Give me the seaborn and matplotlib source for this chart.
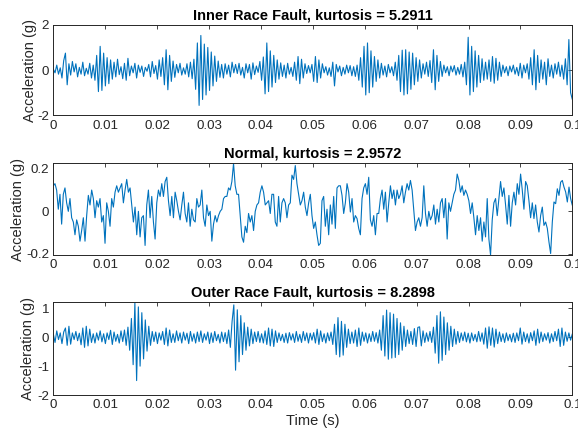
import numpy as np
import matplotlib
matplotlib.use("Agg")
import matplotlib.pyplot as plt
import seaborn as sns

# Inner race fault signal (values in 0.01 g)
inner_cg = [
    5, -12, 22, -18, 10, -35, 42, 75, -65, 28,
    -22, 38, -8, 28, -30, 12, -18, 35, -25, 8,
    -18, 30, -35, 22, -45, 65, -95, 105, -90, 75,
    -70, 55, -60, 45, -40, 35, -30, 48, -20, 15,
    -38, 30, -45, 52, -25, 18, -12, 30, -35, 22,
    -10, 18, -28, 12, -5, 25, -30, 38, -15, 20,
    -40, 45, -28, 55, -65, 90, -87, 65, -50, 40,
    -32, 25, -12, 30, -22, 10, -18, 28, -30, 35,
    -38, 48, -85, 120, -156, 153, -130, 115, -110, 100,
    -90, 80, -70, 62, -50, 40, -32, 25, -35, 28,
    -18, 22, -30, 35, -12, 25, -15, 30, -22, 12,
    -35, 28, -12, 25, -40, 32, -20, 18, -10, 38,
    -45, 58, -105, 120, -95, 85, -75, 65, -55, 45,
    -40, 32, -28, 22, -35, 30, -18, 12, -28, 35,
    -45, 60, -60, 48, -35, 28, -15, 20, -12, 25,
    -50, 60, -55, 45, -35, 28, -12, 15, -22, 10,
    -28, 35, -70, 25, -8, 18, -25, 12, -18, 22,
    -12, 20, -25, 15, -28, 22, -45, 55, -75, 105,
    -110, 120, -100, 85, -75, 60, -50, 45, -35, 30,
    -22, 18, -30, 25, -12, 15, -25, 35, -45, 65,
    -95, 88, -110, 90, -105, 80, -85, 75, -65, 55,
    -50, 45, -35, 28, -18, 35, -28, 42, -55, 90,
    -87, 65, -50, 38, -28, 22, -12, 15, -25, 18,
    -8, 20, -22, 12, -18, 25, -30, 35, -65, 145,
    -110, 105, -95, 85, -75, 65, -55, 50, -45, 35,
    -40, 45, -50, 60, -58, 52, -45, 35, -28, 22,
    -12, 15, -25, 18, -8, 22, -18, 12, -25, 30,
    -35, 22, -12, 28, -40, 55, -65, 90, -87, 65,
    -55, 45, -40, 35, -65, 50, -28, 22, -35, 28,
    -18, 35, -28, 22, -40, 50, -65, 135, -100, -130,
]

# Normal (healthy bearing) signal, in g
normal_g = [
    0.12, 0.13, 0.10, 0.01, 0.08, -0.06, 0.08, 0.11, 0.04, 0.00,
    0.06, -0.03, -0.05, -0.11, -0.04, -0.07, -0.14, -0.09, -0.03, -0.14,
    -0.02, 0.075, 0.03, 0.10, 0.06, -0.03, 0.05, 0.02, 0.06, -0.05,
    -0.02, -0.15, 0.04, 0.00, -0.07, 0.06, 0.02, 0.09, 0.12, 0.09,
    0.11, 0.13, 0.04, 0.10, 0.15, 0.09, 0.11, 0.03, -0.05, 0.02,
    -0.11, 0.00, -0.12, -0.03, -0.02, -0.16, 0.03, 0.10, -0.03, 0.07,
    -0.05, -0.13, 0.04, 0.10, 0.07, 0.13, 0.07, 0.14, 0.16, 0.05,
    -0.02, 0.07, -0.03, 0.09, 0.05, 0.00, -0.04, 0.03, 0.09, -0.01,
    -0.05, 0.04, -0.07, 0.01, -0.04, -0.05, 0.06, 0.02, 0.03, 0.10,
    -0.03, -0.07, 0.03, -0.02, 0.00, -0.14, -0.06, -0.02, -0.05, -0.02,
    0.00, 0.01, 0.06, 0.07, 0.07, 0.11, 0.10, 0.14, 0.225, 0.12,
    0.08, 0.08, -0.02, -0.12, -0.145, -0.07, -0.10, -0.01, -0.05, -0.02,
    -0.09, 0.00, 0.03, 0.04, 0.09, 0.12, 0.09, 0.03, 0.04, 0.05,
    -0.01, 0.08, 0.08, -0.05, -0.07, 0.07, -0.05, 0.04, 0.06, 0.04,
    -0.03, 0.03, 0.04, 0.17, 0.15, 0.215, 0.13, 0.08, 0.03, 0.05,
    0.09, 0.02, -0.02, 0.04, 0.08,
    -0.02, -0.08, -0.05, -0.11, -0.16, -0.15, 0.05, 0.07, -0.07, 0.01,
    -0.11, 0.03, -0.06, 0.07, -0.08, 0.11, 0.12, 0.12, 0.075, -0.01,
    0.04, 0.13, 0.09, -0.003, 0.06, -0.05, -0.02, -0.034, -0.08, -0.11,
    0.06, 0.11, 0.13, 0.08, 0.16, -0.04, -0.07, -0.02, -0.11, -0.01,
    -0.01, 0.06, 0.10, 0.01, 0.09, -0.05, 0.04, 0.12, 0.06, 0.10,
    0.03, 0.10, 0.06, 0.08, 0.12, 0.04, 0.09, 0.13, 0.10, 0.145,
    0.10, 0.005, -0.09, -0.05, -0.03, -0.07, -0.03, 0.12, -0.01, -0.07,
    0.00, -0.04, -0.02, 0.03, -0.06, 0.01, -0.05, 0.04, 0.06, -0.03,
    0.06, -0.13, 0.04, 0.00, 0.04, 0.08, 0.10, 0.175, 0.145, 0.09,
    0.12, 0.075, 0.10, 0.08, 0.05, -0.01, 0.04, -0.03, -0.11, -0.02,
    -0.09, -0.03, -0.14, -0.05, -0.12, 0.06, -0.13, -0.205, -0.04, 0.04,
    0.06, -0.02, 0.06, 0.14, 0.07, 0.11, 0.03, -0.06, 0.075, -0.07,
    0.04, 0.09, 0.03, 0.13, 0.08, 0.175, 0.10, 0.01, 0.14, 0.12,
    0.05, -0.03, 0.04, -0.034, 0.03, -0.05, -0.097, -0.02, 0.02, -0.066,
    -0.05, -0.08, -0.144, -0.198, -0.05, 0.044, 0.036, 0.106, 0.075, 0.137,
    0.145, 0.114, 0.091, 0.044, 0.114, 0.059, 0.028,
]

# Outer race fault signal (values in 0.01 g)
outer_cg = [
    12, -18, 22, -8, 15, -22, 18, 32, -28, 38,
    -24, 15, -8, 20, -12, 14, -26, 32, -35, 38,
    -30, 28, -18, 12, -20, 15, -10, 22, -16, 12,
    -22, 15, -8, 24, -25, 18, -14, 10, -20, 22,
    -15, 25, -28, 35, -45, 65, -95, 120, -150, 105,
    -100, 85, -75, 60, -48, 38, -28, 20, -15, 18,
    -22, 15, -10, 20, -25, 32, -30, 25, -18, 12,
    -18, 22, -12, 15, -20, 18, -10, 14, -22, 20,
    -14, 12, -20, 18, -15, 22, -18, 12, -10, 18,
    -22, 15, -18, 20, -12, 10, -20, 18, -15, 16,
    -22, 25, -35, 55, 112, -114, 95, -85, 75, -60,
    50, -45, 35, -30, 28, -22, 18, -15, 20, -18,
    12, -20, 22, -25, 32, -30, 28, -32, 22, -18,
    15, -12, 10, -18, 14, -20, 16, -10, 12, -18,
    20, -14, 10, -18, 20, -12, 15, -20, 14, -10,
    16, -20, 28, -25, 22, -15, 12, -20, 15, -12,
    18, -25, 45, -60, 68, -68, 55, -62, 45, -35,
    28, -22, 18, -20, 25, -32, 32, -28, 18, -14,
    15, -20, 12, -15, 20, -14, 16, -20, 25, -45,
    75, -65, 94, -76, 85, -72, 80, -70, 65, -60,
    50, -45, 38, -32, 25, -22, 20, -25, 30, -32,
    34, 36, -30, 22, -18, 15, -14, 20, -18, 35,
    -55, 75, -90, 88, -80, 70, -60, 50, -45, 38,
    -32, 28, -24, 20, -18, 15, -12, 18, -16, 14,
    -20, 15, -12, 10, -16, 20, -14, 15, -24, 32,
    -38, 36, -28, 32, -34, 28, -22, 18, -15, 12,
    -18, 15, -12, 10, -16, 14, -18, 15, -12, 32,
    -24, 18, -15, 12, -20, 16, -12, 22, -28, 28,
    -20, 18, -15, 12, -10, 16, -20, 12, -15, 20,
    -12, 28, -32, 32, -28, 18, -14, 15, -10, 12,
]

titles = ["Inner Race Fault, kurtosis = 5.2911",
          "Normal, kurtosis = 2.9572",
          "Outer Race Fault, kurtosis = 8.2898"]
yticks_list = [[-2, 0, 2], [-0.2, 0, 0.2], [-2, -1, 0, 1]]
ylims = [(-2, 2), (-0.205, 0.225), (-2, 1.23)]
xticks = [0, 0.01, 0.02, 0.03, 0.04, 0.05, 0.06, 0.07, 0.08, 0.09, 0.1]

signals = [np.array(inner_cg) / 100.0, np.array(normal_g), np.array(outer_cg) / 100.0]

sns.set_theme(style="white")
plt.rcParams['font.family'] = ['Liberation Sans', 'DejaVu Sans']
dark = '#262626'

fig = plt.figure(figsize=(5.78, 4.32), dpi=100)
positions = [[0.0922, 0.733, 0.898, 0.2095],
             [0.0922, 0.4097, 0.898, 0.212],
             [0.0922, 0.0856, 0.898, 0.216]]
label_x = [-0.032, -0.055, -0.036]

for k in range(3):
    ax = fig.add_axes(positions[k])
    y = signals[k]
    t = np.linspace(0, 0.1, len(y))
    sns.lineplot(x=t, y=y, ax=ax, color='#0072BD', linewidth=0.8,
                 estimator=None, sort=False)
    ax.set_xlim(0, 0.1)
    ax.set_ylim(*ylims[k])
    ax.set_xticks(xticks)
    ax.set_xticklabels(['%g' % v for v in xticks])
    ax.set_yticks(yticks_list[k])
    ax.set_yticklabels(['%g' % v for v in yticks_list[k]])
    ax.tick_params(direction='in', length=3, width=0.6, colors=dark,
                   labelsize=9.6, top=True, right=True, pad=3)
    for s in ax.spines.values():
        s.set_color(dark)
        s.set_linewidth(0.7)
    ax.set_title(titles[k], fontsize=10.5, fontweight='bold', color='black', pad=4)
    ax.set_ylabel('Acceleration (g)', fontsize=10.5, color=dark)
    ax.yaxis.set_label_coords(label_x[k], 0.5)
    if k == 2:
        ax.set_xlabel('Time (s)', fontsize=10.5, color=dark, labelpad=2)

fig.savefig('out.png', dpi=100)
